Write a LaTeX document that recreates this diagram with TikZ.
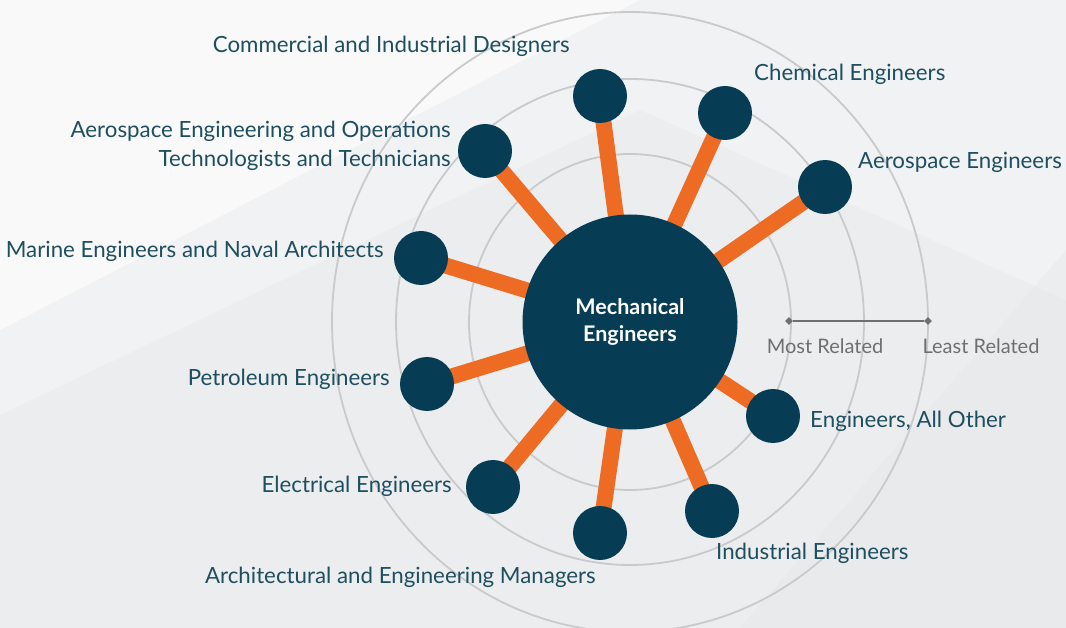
\documentclass[tikz,border=0pt]{standalone}
\usepackage{fontspec}
\setmainfont{Lato}
\usepackage{xcolor}
\usepackage{tikz}
\usetikzlibrary{shapes.geometric,backgrounds}
\definecolor{navy}{HTML}{073D54}
\definecolor{rust}{HTML}{EE6B24}
\definecolor{teal}{HTML}{1E4F60}
\definecolor{ring}{HTML}{C9CACB}
\definecolor{bgl}{HTML}{F1F2F3}
\definecolor{bgd}{HTML}{E3E5E7}
\definecolor{scl}{HTML}{6F6F6F}

\begin{document}
\begin{tikzpicture}[x=1pt, y=-1pt,
    hub/.style={circle, fill=navy, minimum size=215pt, inner sep=0pt, text=white, align=center,
      font=\bfseries\fontsize{21.5}{27}\selectfont},
    sat/.style={circle, fill=navy, minimum size=54pt, inner sep=0pt},
    spoke/.style={line width=16pt, color=rust},
    lbl/.style={inner sep=0pt, text=teal, font=\fontsize{22.3}{29}\selectfont},
    tick/.style={diamond, fill=scl, minimum size=8pt, inner sep=0pt},
    rings/.style={ring, line width=1.8pt}
]
\useasboundingbox (0,0) rectangle (1066,628);
% backdrop and rings
\begin{scope}[on background layer]
\fill[bgl] (0,0) rectangle (1066,628);
\fill[white, opacity=0.6] (0,0) -- (640,0) -- (0,330) -- cycle;
\fill[bgd, opacity=0.35] (0,415) -- (640,110) -- (1066,300) -- (1066,628) -- (0,628) -- cycle;
\fill[bgd, opacity=0.35] (740,628) -- (1066,250) -- (1066,628) -- cycle;
\draw[rings] (630,322) ellipse [x radius=161pt, y radius=168pt];
\draw[rings] (630,322) ellipse [x radius=234pt, y radius=243pt];
\draw[rings] (630,322) ellipse [x radius=298pt, y radius=310pt];
\end{scope}

\node[hub] (mech) at (630,322) {Mechanical\\Engineers};

\node[sat] (desig) at (600,96) {};
\node[sat] (chem) at (725,113) {};
\node[sat] (aero) at (825,187) {};
\node[sat] (aeroops) at (485,151) {};
\node[sat] (marine) at (421,258) {};
\node[sat] (petro) at (427,384) {};
\node[sat] (elec) at (493,487) {};
\node[sat] (archmgr) at (600,533) {};
\node[sat] (indus) at (712,511) {};
\node[sat] (other) at (773,416) {};

\begin{scope}[on background layer]
\foreach \s in {desig,chem,aero,aeroops,marine,petro,elec,archmgr,indus,other}
  \draw[spoke] (mech.center) -- (\s.center);
\end{scope}

\node[lbl, anchor=mid east] (tdesig) at (570,50) {Commercial and Industrial Designers};
\node[lbl, anchor=mid west] (tchem) at (754,78) {Chemical Engineers};
\node[lbl, anchor=mid west] (taero) at (858,166) {Aerospace Engineers};
\node[lbl, anchor=east, align=right] (taeroops) at (451,146) {Aerospace Engineering and Operations\\Technologists and Technicians};
\node[lbl, anchor=mid east] (tmarine) at (384,255) {Marine Engineers and Naval Architects};
\node[lbl, anchor=mid east] (tpetro) at (390,383) {Petroleum Engineers};
\node[lbl, anchor=mid east] (telec) at (452,490) {Electrical Engineers};
\node[lbl, anchor=mid east] (tarchmgr) at (596,581) {Architectural and Engineering Managers};
\node[lbl, anchor=mid west] (tindus) at (716,557) {Industrial Engineers};
\node[lbl, anchor=mid west] (tother) at (810,425) {Engineers, All Other};

% relatedness scale
\node[tick] (most) at (789,321) {};
\node[tick] (least) at (928,321) {};
\draw[scl, line width=2pt] (most) -- (least);
\node[inner sep=0pt, text=scl, font=\fontsize{20}{22}\selectfont] (tmost) at (825,346) {Most Related};
\node[inner sep=0pt, text=scl, font=\fontsize{20}{22}\selectfont] (tleast) at (981,346) {Least Related};
\end{tikzpicture}
\end{document}
